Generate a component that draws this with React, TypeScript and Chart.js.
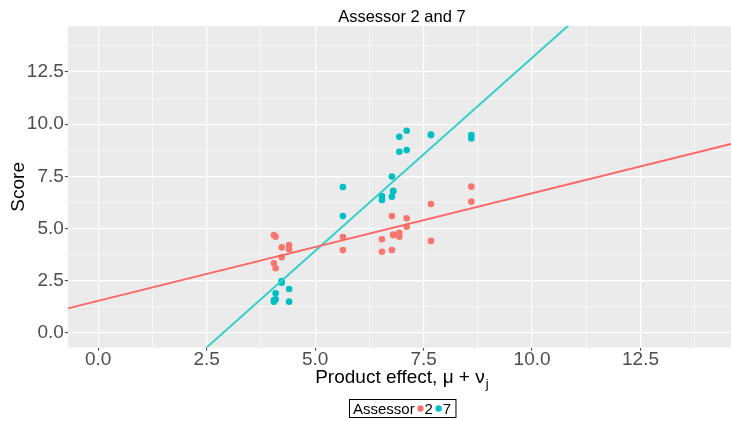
import React, { useEffect, useRef } from "react";
import { Chart, registerables } from "chart.js";

Chart.register(...registerables);

// Assessor identifiers and their colours
const assessors = ["2", "7"];
const pointColors = ["#F8766D", "#00BFC4"];
const lineColors = ["#FF6666", "#36CFC9"];

// Product effect (mu + nu_j) for each product
const productEffect = [4.05, 4.09, 4.23, 4.4, 5.64, 6.54, 6.77, 6.8, 6.94, 7.11, 7.67, 8.6];

// Scores, two replicates per product
const assessor2Rep1 = [4.69, 4.61, 4.1, 4.21, 4.6, 4.49, 5.6, 4.71, 4.8, 5.49, 6.18, 7.01];
const assessor2Rep2 = [3.34, 3.1, 3.63, 4.01, 3.97, 3.89, 3.97, 4.69, 4.61, 5.09, 4.41, 6.29];
const assessor7Rep1 = [1.58, 1.9, 2.49, 2.11, 6.99, 6.56, 7.49, 6.81, 9.4, 9.69, 9.48, 9.48];
const assessor7Rep2 = [1.5, 1.61, 2.41, 1.5, 5.6, 6.37, 6.53, 6.79, 8.68, 8.76, 9.5, 9.32];

// Fitted lines per assessor: score = intercept + slope * product effect
const fitIntercept = [1.54, -5.32];
const fitSlope = [0.515, 1.85];

// Axes (shared by x and y)
const axisLimits = [-0.7, 14.7];
const majorTicks = [0, 2.5, 5, 7.5, 10, 12.5];
const majorTickLabels = ["0.0", "2.5", "5.0", "7.5", "10.0", "12.5"];
const minorTicks = [1.25, 3.75, 6.25, 8.75, 11.25, 13.75];

const titleText = "Assessor 2 and 7";
const yTitle = "Score";
const xTitleMain = "Product effect, \u03BC + \u03BD";
const xTitleSub = "j";
const legendTitle = "Assessor";

const FONT = "'Liberation Sans', Arial, Helvetica, sans-serif";

const isMajor = (v: number | undefined) =>
  v !== undefined && majorTicks.some((m) => Math.abs(m - v) < 1e-9);

const pairs = (xs: number[], a: number[], b: number[]) =>
  xs.flatMap((x, i) => [
    { x, y: a[i] },
    { x, y: b[i] },
  ]);

const fitLine = (k: number) =>
  axisLimits.map((x) => ({ x, y: fitIntercept[k] + fitSlope[k] * x }));

const decorations = {
  id: "decorations",
  beforeDraw(chart: any) {
    const { ctx, chartArea: a } = chart;
    ctx.save();
    ctx.fillStyle = "#FFFFFF";
    ctx.fillRect(0, 0, chart.width, chart.height);
    ctx.fillStyle = "#EBEBEB";
    ctx.fillRect(a.left, a.top, a.right - a.left, a.bottom - a.top);
    ctx.restore();
  },
  afterDraw(chart: any) {
    const { ctx, chartArea: a } = chart;
    const cx = (a.left + a.right) / 2;
    ctx.save();

    // plot title
    ctx.fillStyle = "#000000";
    ctx.font = `16.5px ${FONT}`;
    ctx.textAlign = "center";
    ctx.textBaseline = "alphabetic";
    ctx.fillText(titleText, cx, 21.7);

    // y axis title
    ctx.save();
    ctx.font = `19px ${FONT}`;
    ctx.translate(23.5, (a.top + a.bottom) / 2);
    ctx.rotate(-Math.PI / 2);
    ctx.textAlign = "center";
    ctx.fillText(yTitle, 0, 0);
    ctx.restore();

    // x axis title with subscript
    ctx.textAlign = "left";
    ctx.font = `19px ${FONT}`;
    const wMain = ctx.measureText(xTitleMain).width;
    ctx.font = `13px ${FONT}`;
    const wSub = ctx.measureText(xTitleSub).width;
    const x0 = cx - (wMain + wSub + 1) / 2;
    ctx.font = `19px ${FONT}`;
    ctx.fillText(xTitleMain, x0, 383.3);
    ctx.font = `13px ${FONT}`;
    ctx.fillText(xTitleSub, x0 + wMain + 1, 387.8);

    // legend box
    ctx.font = `15px ${FONT}`;
    const wTitle = ctx.measureText(legendTitle).width;
    const itemW = assessors.map((s) => ctx.measureText(s).width);
    const padL = 3.5;
    const padR = 5;
    const dotGap = 5.8;
    const textGap = 4;
    const boxW = padL + wTitle + itemW.reduce((s, w) => s + dotGap + textGap + w, 0) + padR;
    const boxL = Math.round(cx - boxW / 2) + 0.5;
    const boxT = 399.5;
    const boxH = 18;
    ctx.strokeStyle = "#000000";
    ctx.lineWidth = 1;
    ctx.strokeRect(boxL, boxT, boxW, boxH);
    const base = 414;
    ctx.fillStyle = "#000000";
    ctx.fillText(legendTitle, boxL + padL, base);
    let x = boxL + padL + wTitle;
    assessors.forEach((s, k) => {
      x += dotGap;
      ctx.fillStyle = pointColors[k];
      ctx.beginPath();
      ctx.arc(x, boxT + boxH / 2, 3.2, 0, Math.PI * 2);
      ctx.fill();
      x += textGap;
      ctx.fillStyle = "#000000";
      ctx.fillText(s, x, base);
      x += itemW[k];
    });

    ctx.restore();
  },
};

const axisOptions = (kind: "x" | "y") => ({
  type: "linear" as const,
  min: axisLimits[0],
  max: axisLimits[1],
  afterBuildTicks: (scale: any) => {
    scale.ticks = [...majorTicks, ...minorTicks]
      .sort((p, q) => p - q)
      .map((value) => ({ value }));
  },
  afterFit: (scale: any) => {
    if (kind === "y") scale.width = 67.8;
    else scale.height = 421 - 347.6;
  },
  border: { display: false },
  grid: {
    color: "#FFFFFF",
    lineWidth: (c: any) => (isMajor(c.tick?.value) ? 1.2 : 0.6),
    drawTicks: true,
    tickLength: 3,
    tickWidth: 1,
    tickColor: (c: any) => (isMajor(c.tick?.value) ? "#333333" : "rgba(0,0,0,0)"),
  },
  ticks: {
    autoSkip: false,
    maxRotation: 0,
    minRotation: 0,
    color: "#4D4D4D",
    padding: kind === "y" ? 1 : -0.5,
    font: { family: FONT, size: 19, lineHeight: 1 },
    callback: (value: number) => {
      const i = majorTicks.findIndex((m) => Math.abs(m - value) < 1e-9);
      return i >= 0 ? majorTickLabels[i] : "";
    },
  },
});

export default function App() {
  const ref = useRef<HTMLCanvasElement | null>(null);

  useEffect(() => {
    if (!ref.current) return;
    const chart = new Chart(ref.current, {
      type: "scatter",
      data: {
        datasets: [
          {
            label: "fit 2",
            data: fitLine(0),
            showLine: true,
            borderColor: lineColors[0],
            borderWidth: 2,
            pointRadius: 0,
            clip: 0,
            order: 0,
          },
          {
            label: "fit 7",
            data: fitLine(1),
            showLine: true,
            borderColor: lineColors[1],
            borderWidth: 2,
            pointRadius: 0,
            clip: 0,
            order: 0,
          },
          {
            label: assessors[0],
            data: pairs(productEffect, assessor2Rep1, assessor2Rep2),
            backgroundColor: pointColors[0],
            borderWidth: 0,
            pointRadius: 3.3,
            order: 1,
          },
          {
            label: assessors[1],
            data: pairs(productEffect, assessor7Rep1, assessor7Rep2),
            backgroundColor: pointColors[1],
            borderWidth: 0,
            pointRadius: 3.3,
            order: 1,
          },
        ],
      },
      options: {
        animation: false,
        responsive: false,
        devicePixelRatio: 1,
        layout: { padding: { left: 0, top: 26.1, right: 0.8, bottom: 0 } },
        plugins: {
          legend: { display: false },
          tooltip: { enabled: false },
          title: { display: false },
        },
        scales: {
          x: axisOptions("x"),
          y: axisOptions("y"),
        },
      },
      plugins: [decorations],
    } as any);
    return () => chart.destroy();
  }, []);

  return (
    <div
      style={{
        position: "fixed",
        left: 0,
        top: 0,
        width: 731,
        height: 421,
        overflow: "hidden",
        background: "#FFFFFF",
      }}
    >
      <canvas ref={ref} width={740} height={421} style={{ display: "block" }} />
    </div>
  );
}
